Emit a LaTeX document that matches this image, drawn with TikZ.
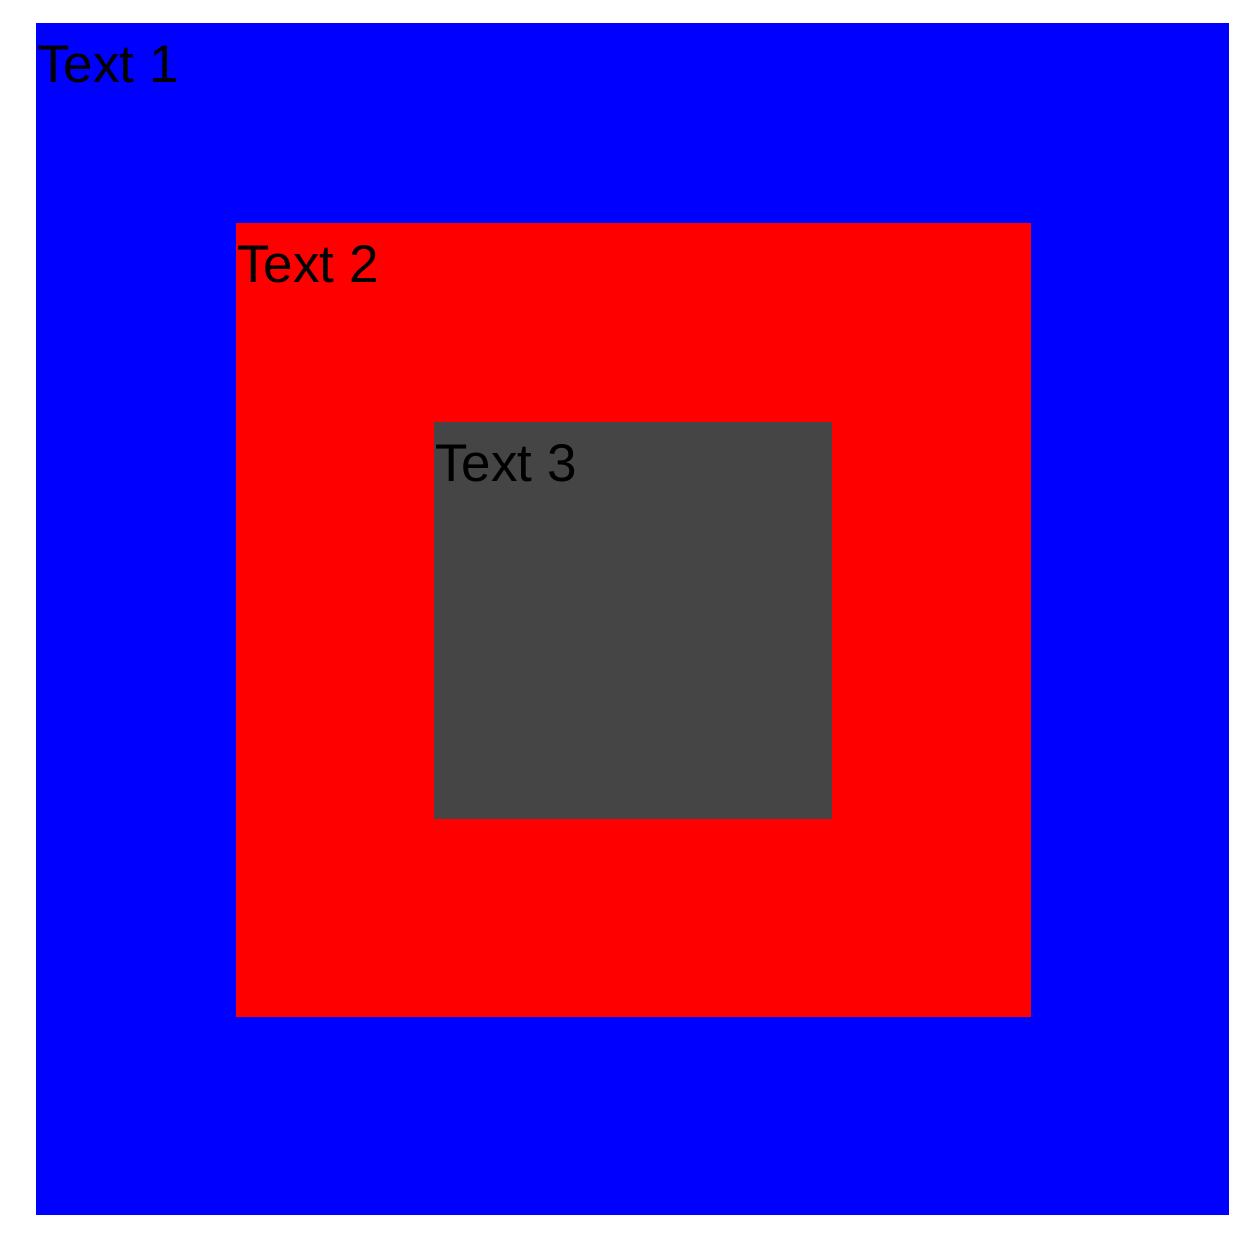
\documentclass[tikz,border=0pt]{standalone}
\usepackage{fontspec}
\setmainfont{Liberation Sans}
\usepackage{tikz}
\definecolor{boxblue}{HTML}{0000FF}
\definecolor{boxred}{HTML}{FF0000}
\definecolor{boxgray}{HTML}{454545}
\begin{document}
\begin{tikzpicture}[x=0.5pt,y=-0.5pt,
    boxlabel/.style={anchor=base west,inner sep=0pt,text=black,font=\fontsize{26.5}{30}\selectfont}]
    \useasboundingbox (0,0) rectangle (1254,1238);
    % --- riquadro esterno ---
    \fill[boxblue] (36,23) rectangle (1229,1215);
    \node[boxlabel] (t1) at (37,82) {Text 1};
    % --- riquadro medio ---
    \fill[boxred] (236,223) rectangle (1031,1017);
    \node[boxlabel] (t2) at (237,282) {Text 2};
    % --- riquadro interno ---
    \fill[boxgray] (434,422) rectangle (832,819);
    \node[boxlabel] (t3) at (435,481) {Text 3};
\end{tikzpicture}
\end{document}
